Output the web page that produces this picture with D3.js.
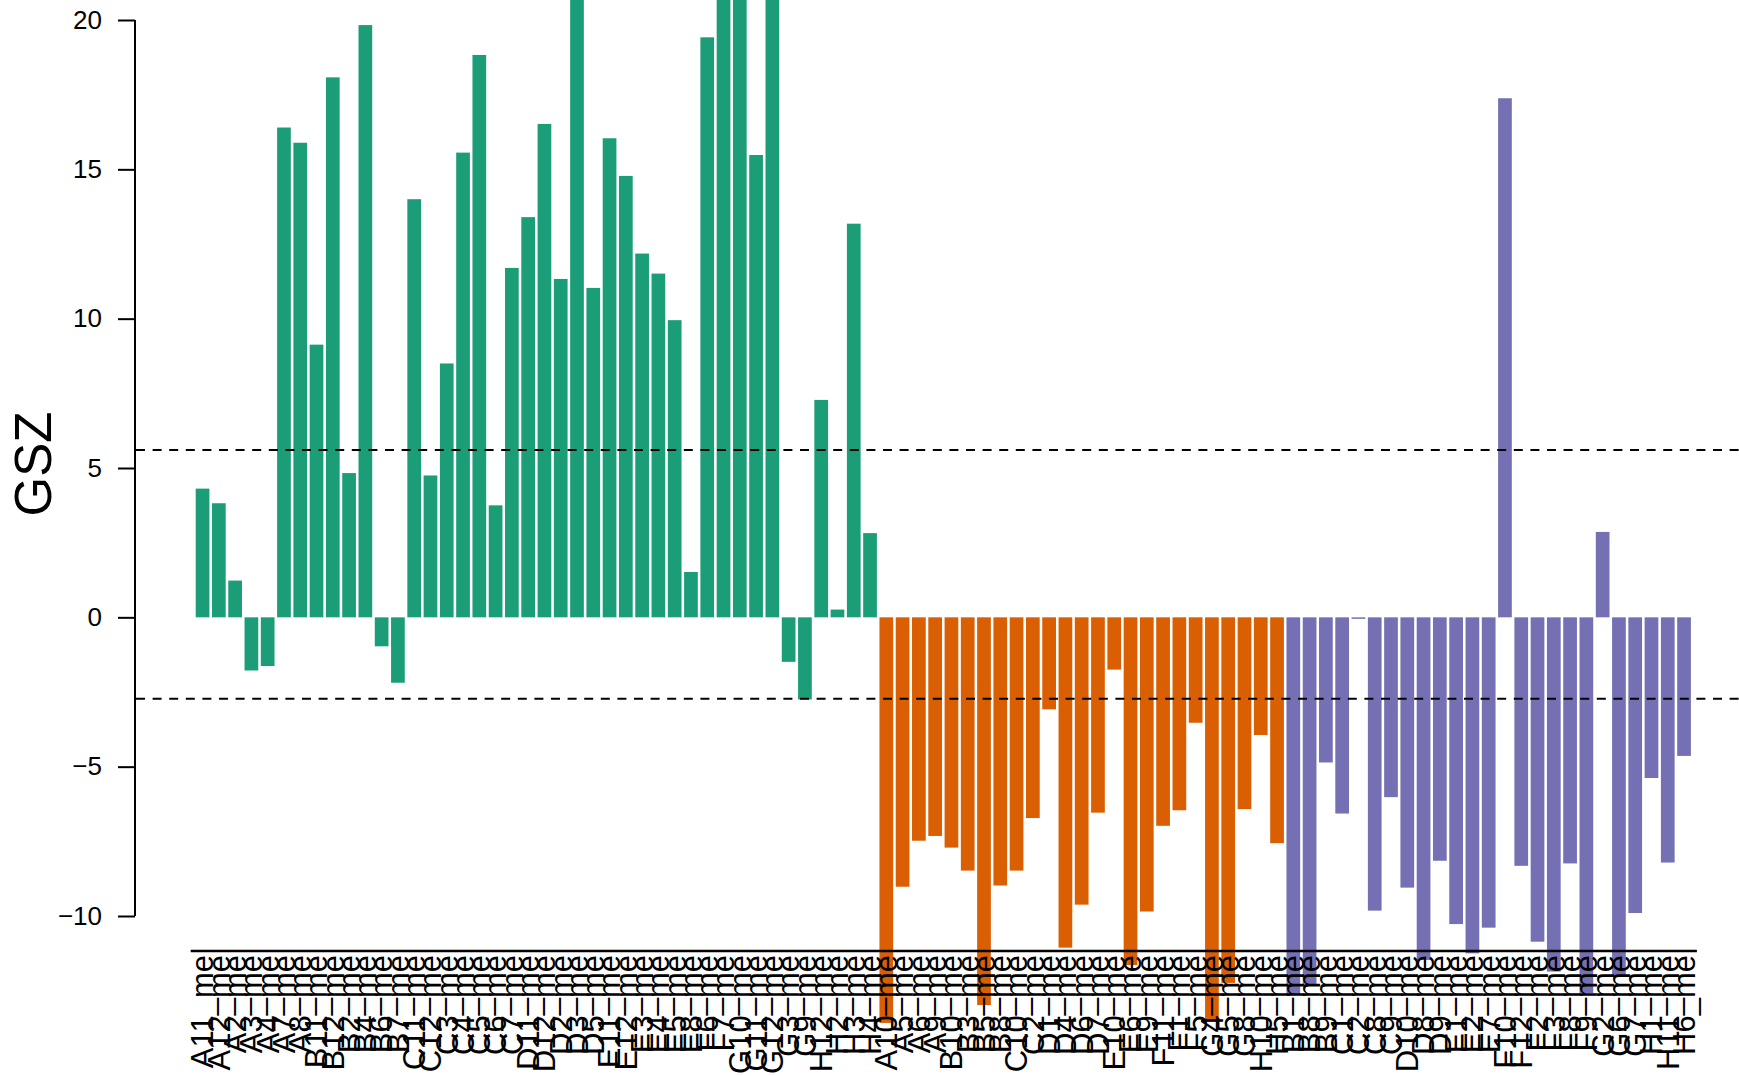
<!DOCTYPE html>
<html>
<head>
<meta charset="utf-8">
<script src="https://cdn.jsdelivr.net/npm/d3@7"></script>
<style>
  html, body { margin: 0; padding: 0; background: #ffffff; }
  svg { display: block; }
</style>
</head>
<body>
<svg id="chart" width="1739" height="1076"></svg>
<script>
// ---- data ----
const groupNames = ["group1", "group2", "group3"];
const groupColors = ["#1B9E77", "#D95F02", "#7570B3"];

const group1Labels = ["A11","A12","A2","A3","A4","A7","A8","B11","B12","B2","B4","B6","B7",
  "C11","C12","C3","C4","C5","C6","C7","D11","D12","D2","D3","D5","E11","E12","E3","E4","E5",
  "E8","F6","F7","G10","G11","G12","G3","G9","H12","H2","H3","H4"];
const group1Values = [4.31, 3.82, 1.23, -1.78, -1.63, 16.40, 15.89, 9.13, 18.08, 4.83, 19.83, -0.97, -2.19,
  14.00, 4.75, 8.50, 15.56, 18.83, 3.75, 11.70, 13.40, 16.52, 11.33, 22.10, 11.03, 16.04, 14.78, 12.18, 11.51, 9.95,
  1.52, 19.42, 21.60, 22.40, 15.48, 21.90, -1.49, -2.75, 7.28, 0.26, 13.18, 2.82];

const group2Labels = ["A10","A5","A6","A9","B10","B3","B5","B8","C10","C2","D1","D4","D6","D7",
  "E10","E6","E9","F11","F1","F5","G4","G5","G8","H10","H5"];
const group2Values = [-13.58, -9.02, -7.48, -7.32, -7.71, -8.48, -12.98, -8.98, -8.48, -6.72, -3.08, -11.06, -9.62, -6.54,
  -1.75, -11.64, -9.85, -6.98, -6.46, -3.53, -13.54, -12.24, -6.42, -3.94, -7.56];

const group3Labels = ["B1","B8","B9","C1","C2","C8","C9","D10","D8","D9","E1","E2","E7","F10","F12",
  "F2","F3","F8","F9","G2","G6","G7","H1","H11","H6"];
const group3Values = [-12.64, -12.30, -4.86, -6.57, -0.05, -9.82, -6.02, -9.05, -11.47, -8.15, -10.27, -11.25, -10.39,
  17.38, -8.32, -10.86, -11.86, -8.24, -12.58, 2.86, -12.03, -9.90, -5.38, -8.21, -4.64];

const labelSuffix = "_me";
const yTicks = [-10, -5, 0, 5, 10, 15, 20];
const thresholds = [5.6, -2.73];
const yTitle = "GSZ";

// ---- build table ----
const rows = [];
[[group1Labels, group1Values], [group2Labels, group2Values], [group3Labels, group3Values]]
  .forEach(([labs, vals], g) => {
    labs.forEach((l, i) => rows.push({ key: rows.length, label: l + labelSuffix, value: vals[i], group: g }));
  });

// ---- scales ----
const svg = d3.select("#chart");
const W = 1739, H = 1076;
svg.append("rect").attr("width", W).attr("height", H).attr("fill", "#ffffff");

const x = d3.scaleBand()
  .domain(rows.map(d => d.key))
  .range([195.7, 1690.9])
  .paddingInner(0.158)
  .paddingOuter(0);

const y = d3.scaleLinear().domain([-10, 20]).range([916, 20]);

const font = "'Liberation Sans', Arial, Helvetica, sans-serif";

// ---- bars ----
svg.append("g")
  .selectAll("rect")
  .data(rows)
  .join("rect")
  .attr("x", d => x(d.key))
  .attr("width", x.bandwidth())
  .attr("y", d => Math.min(y(0), y(d.value)))
  .attr("height", d => Math.abs(y(d.value) - y(0)))
  .attr("fill", d => groupColors[d.group]);

// ---- threshold lines ----
svg.append("g")
  .selectAll("line")
  .data(thresholds)
  .join("line")
  .attr("x1", 136).attr("x2", W)
  .attr("y1", d => y(d)).attr("y2", d => y(d))
  .attr("stroke", "#000")
  .attr("stroke-width", 2)
  .attr("stroke-dasharray", "9,7.6");

// ---- y axis ----
const yAxis = d3.axisLeft(y).tickValues(yTicks).tickSize(17).tickPadding(16)
  .tickFormat(d => d < 0 ? "\u2212" + Math.abs(d) : String(d));
const yg = svg.append("g").attr("transform", "translate(135,0)").call(yAxis);
yg.select(".domain").attr("stroke", "#000").attr("stroke-width", 2)
  .attr("d", `M0,${y(20)}V${y(-10)}`);
yg.selectAll(".tick line").attr("stroke", "#000").attr("stroke-width", 2);
yg.selectAll(".tick text")
  .attr("font-family", font).attr("font-size", 26).attr("fill", "#000");

// y title
svg.append("text")
  .attr("transform", `translate(51,${464}) rotate(-90)`)
  .attr("text-anchor", "middle")
  .attr("font-family", font)
  .attr("font-size", 51)
  .attr("fill", "#000")
  .text(yTitle);

// ---- x axis line and labels ----
const [r0, r1] = x.range();
svg.append("line")
  .attr("x1", r0 - 5).attr("x2", r1 + 6)
  .attr("y1", 951).attr("y2", 951)
  .attr("stroke", "#000").attr("stroke-width", 2.7);

svg.append("g")
  .selectAll("text")
  .data(rows)
  .join("text")
  .attr("transform", d => `translate(${x(d.key) + x.bandwidth() / 2},955) rotate(-90)`)
  .attr("text-anchor", "end")
  .attr("dy", "0.35em")
  .attr("font-family", font)
  .attr("font-size", 31)
  .attr("fill", "#000")
  .text(d => d.label);
</script>
</body>
</html>
